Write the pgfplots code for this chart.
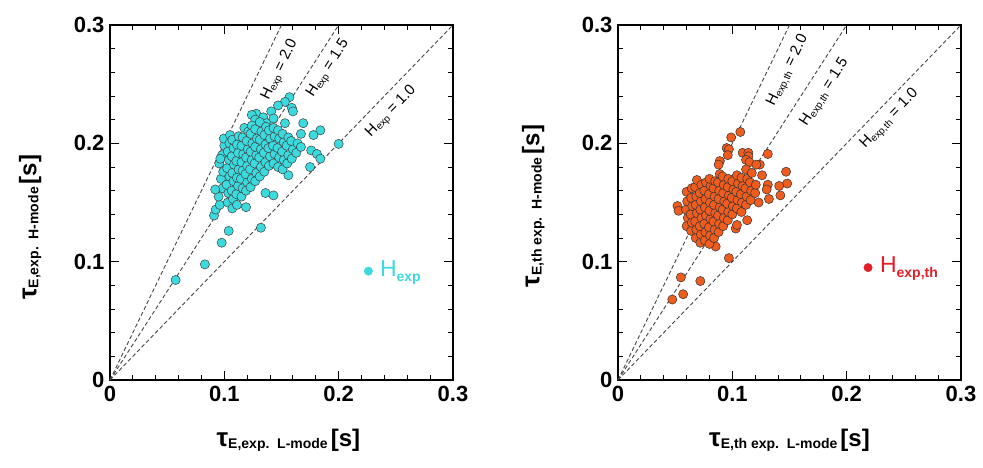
\documentclass[border=0pt]{standalone}
\usepackage{fontspec}
\setmainfont{Liberation Sans}
\usepackage{pgfplots}
\pgfplotsset{compat=1.18}
\definecolor{cyanc}{RGB}{58,218,222}
\definecolor{orangec}{RGB}{238,92,30}
\definecolor{redc}{RGB}{228,30,40}
\definecolor{linec}{RGB}{70,70,70}
\tikzset{
  hline/.style={linec, line width=0.9pt, dash pattern=on 4pt off 2.5pt},
  lbl/.style={font=\fontsize{15}{17}\selectfont, inner sep=0pt},
}
\pgfplotsset{
  myax/.style={
    scale only axis, width=343pt, height=355pt,
    xmin=0, xmax=0.3, ymin=0, ymax=0.3,
    xtick={0,0.1,0.2,0.3}, xticklabels={0,0.1,0.2,0.3},
    ytick={0,0.1,0.2,0.3}, yticklabels={0,0.1,0.2,0.3},
    minor x tick num=4, minor y tick num=4,
    tick align=inside,
    major tick length=9pt, minor tick length=5pt,
    every major tick/.style={line width=1.6pt, black},
    every minor tick/.style={line width=0.9pt, black},
    axis line style={line width=2.6pt},
    /pgf/number format/assume math mode=true,
    tick label style={font=\fontsize{22}{25}\selectfont\bfseries},
    xticklabel style={yshift=-3pt},
    yticklabel style={xshift=-2pt},
    clip=false,
  },
}
\newcommand{\axlab}[1]{{\fontsize{26}{29}\selectfont\bfseries τ}\raisebox{-0.4ex}{\fontsize{14}{16}\selectfont\bfseries #1}\kern3pt{\fontsize{24}{27}\selectfont\bfseries [s]}}
\newcommand{\hs}[1]{H\textsubscript{\fontsize{10}{11}\selectfont #1}}
\begin{document}
\begin{tikzpicture}
\path[use as bounding box] (0pt,0pt) rectangle (983pt,468pt);
% ---------------- left panel
\begin{axis}[myax, at={(110pt,88pt)}, anchor=south west,
  xlabel={\axlab{E,exp.\ \ L-mode}},
  ylabel={\axlab{E,exp.\ \ H-mode}},
  xlabel style={at={(axis description cs:0.52,-0.17)}, anchor=center},
  ylabel style={at={(axis description cs:-0.233,0.43)}, anchor=center},
]
\addplot[hline] coordinates {(0,0) (0.15,0.3)};
\addplot[hline] coordinates {(0,0) (0.2,0.3)};
\addplot[hline] coordinates {(0,0) (0.3,0.3)};
\addplot[only marks, mark=*, mark size=4.6pt, mark options={fill=cyanc, draw=black!75, line width=0.5pt}] table {
x y
0.0574 0.0845
0.0830 0.0977
0.0977 0.1160
0.1038 0.1260
0.1320 0.1287
0.0910 0.1390
0.0925 0.1440
0.1190 0.1460
0.1360 0.1580
0.1430 0.1560
0.2000 0.1995
0.1840 0.2110
0.1780 0.2070
0.1750 0.1800
0.1760 0.1940
0.1810 0.1910
0.1840 0.1870
0.1690 0.2170
0.1670 0.2080
0.1560 0.1730
0.1570 0.2390
0.1530 0.2350
0.1590 0.2300
0.1600 0.2270
0.1470 0.2320
0.1410 0.2270
0.1530 0.2170
0.1280 0.2250
0.1240 0.2240
0.1340 0.2220
0.1270 0.2200
0.1370 0.2170
0.1430 0.2210
0.0960 0.1480
0.0950 0.1550
0.0985 0.1620
0.0970 0.1700
0.0990 0.1760
0.0955 0.1830
0.0980 0.1900
0.1000 0.1980
0.0995 0.2040
0.0920 0.1610
0.0965 0.1870
0.1030 0.1500
0.1035 0.1580
0.1020 0.1650
0.1045 0.1720
0.1025 0.1790
0.1040 0.1860
0.1030 0.1930
0.1045 0.2000
0.1050 0.2070
0.1070 0.1450
0.1075 0.1530
0.1065 0.1600
0.1080 0.1680
0.1070 0.1750
0.1085 0.1820
0.1065 0.1890
0.1080 0.1960
0.1070 0.2030
0.1110 0.1480
0.1105 0.1570
0.1120 0.1640
0.1110 0.1710
0.1125 0.1780
0.1105 0.1850
0.1120 0.1920
0.1110 0.1990
0.1125 0.2060
0.1150 0.1550
0.1160 0.1620
0.1145 0.1700
0.1160 0.1770
0.1150 0.1840
0.1165 0.1910
0.1150 0.1980
0.1160 0.2050
0.1175 0.2130
0.1190 0.1600
0.1200 0.1670
0.1185 0.1740
0.1200 0.1810
0.1190 0.1880
0.1205 0.1950
0.1195 0.2020
0.1210 0.2100
0.1230 0.1630
0.1240 0.1700
0.1225 0.1780
0.1240 0.1860
0.1230 0.1930
0.1245 0.2000
0.1230 0.2080
0.1240 0.2150
0.1270 0.1680
0.1280 0.1750
0.1265 0.1830
0.1280 0.1900
0.1270 0.1970
0.1285 0.2040
0.1270 0.2120
0.1310 0.1720
0.1320 0.1800
0.1305 0.1880
0.1320 0.1950
0.1310 0.2030
0.1325 0.2100
0.1310 0.2180
0.1350 0.1760
0.1360 0.1840
0.1345 0.1920
0.1360 0.1990
0.1350 0.2070
0.1365 0.2140
0.1390 0.1810
0.1400 0.1890
0.1385 0.1960
0.1400 0.2040
0.1390 0.2110
0.1430 0.1830
0.1440 0.1910
0.1425 0.1980
0.1440 0.2060
0.1430 0.2130
0.1470 0.1800
0.1480 0.1880
0.1465 0.1960
0.1480 0.2040
0.1470 0.2110
0.1510 0.1780
0.1520 0.1860
0.1505 0.1930
0.1520 0.2010
0.1510 0.2080
0.1550 0.1830
0.1560 0.1900
0.1545 0.1980
0.1560 0.2050
0.1590 0.1870
0.1600 0.1950
0.1585 0.2020
0.1630 0.1920
0.1640 0.2000
0.1670 0.1970
};
\addplot[only marks, mark=*, mark size=4.2pt, mark options={fill=cyanc, draw=cyanc}] coordinates {(0.226,0.092)};
\node[anchor=west, text=cyanc, font=\fontsize{23}{26}\selectfont, inner sep=0pt] at (axis cs:0.236,0.091) {H\raisebox{-0.45ex}{\fontsize{14}{16}\selectfont\bfseries exp}};
\node[lbl, rotate=64.2] at (axis cs:0.1487,0.262) {\hs{exp} = 2.0};
\node[lbl, rotate=57.2] at (axis cs:0.191,0.263) {\hs{exp} = 1.5};
\node[lbl, rotate=46.0] at (axis cs:0.246,0.227) {\hs{exp} = 1.0};
\end{axis}
% ---------------- right panel
\begin{axis}[myax, at={(618pt,88pt)}, anchor=south west,
  xlabel={\axlab{E,th exp.\ \ L-mode}},
  ylabel={\axlab{E,th exp.\ \ H-mode}},
  xlabel style={at={(axis description cs:0.5,-0.17)}, anchor=center},
  ylabel style={at={(axis description cs:-0.247,0.49)}, anchor=center},
]
\addplot[hline] coordinates {(0,0) (0.15,0.3)};
\addplot[hline] coordinates {(0,0) (0.2,0.3)};
\addplot[hline] coordinates {(0,0) (0.3,0.3)};
\addplot[only marks, mark=*, mark size=4.6pt, mark options={fill=orangec, draw=black!80, line width=0.5pt}] table {
x y
0.0475 0.0680
0.0570 0.0725
0.0550 0.0867
0.0720 0.0836
0.0970 0.1030
0.0854 0.1128
0.1070 0.2096
0.0990 0.2050
0.0950 0.1960
0.0970 0.1950
0.0960 0.1900
0.0890 0.1850
0.0880 0.1820
0.1090 0.1920
0.1140 0.1920
0.1140 0.1890
0.1120 0.1860
0.1150 0.1840
0.1240 0.1820
0.1210 0.1820
0.1310 0.1910
0.1260 0.1730
0.1470 0.1760
0.1480 0.1660
0.1410 0.1640
0.1420 0.1560
0.1310 0.1650
0.1300 0.1610
0.1320 0.1530
0.1230 0.1500
0.0600 0.1590
0.0520 0.1470
0.0530 0.1430
0.1130 0.1350
0.1030 0.1280
0.0600 0.1300
0.0610 0.1370
0.0595 0.1440
0.0605 0.1510
0.0640 0.1260
0.0645 0.1330
0.0635 0.1400
0.0650 0.1470
0.0640 0.1540
0.0645 0.1620
0.0680 0.1200
0.0685 0.1270
0.0675 0.1340
0.0690 0.1410
0.0680 0.1480
0.0685 0.1550
0.0675 0.1630
0.0690 0.1690
0.0720 0.1160
0.0725 0.1230
0.0715 0.1300
0.0730 0.1370
0.0720 0.1440
0.0725 0.1510
0.0715 0.1580
0.0730 0.1650
0.0760 0.1180
0.0765 0.1250
0.0755 0.1320
0.0770 0.1390
0.0760 0.1460
0.0765 0.1530
0.0755 0.1600
0.0770 0.1670
0.0800 0.1150
0.0805 0.1220
0.0795 0.1290
0.0810 0.1360
0.0800 0.1430
0.0805 0.1500
0.0795 0.1570
0.0810 0.1640
0.0800 0.1700
0.0840 0.1200
0.0845 0.1270
0.0835 0.1340
0.0850 0.1410
0.0840 0.1480
0.0845 0.1550
0.0835 0.1620
0.0850 0.1680
0.0880 0.1250
0.0885 0.1320
0.0875 0.1390
0.0890 0.1460
0.0880 0.1530
0.0885 0.1600
0.0875 0.1670
0.0890 0.1740
0.0920 0.1300
0.0925 0.1370
0.0915 0.1440
0.0930 0.1510
0.0920 0.1580
0.0925 0.1650
0.0915 0.1720
0.0960 0.1350
0.0965 0.1420
0.0955 0.1490
0.0970 0.1560
0.0960 0.1630
0.0965 0.1700
0.1000 0.1400
0.1005 0.1470
0.0995 0.1540
0.1010 0.1610
0.1000 0.1680
0.1040 0.1310
0.1040 0.1450
0.1045 0.1520
0.1035 0.1590
0.1050 0.1660
0.1040 0.1730
0.1080 0.1420
0.1085 0.1500
0.1075 0.1570
0.1090 0.1640
0.1080 0.1710
0.1120 0.1480
0.1125 0.1550
0.1115 0.1620
0.1130 0.1700
0.1120 0.1780
0.1160 0.1520
0.1165 0.1600
0.1155 0.1670
0.1170 0.1750
0.1200 0.1580
0.1205 0.1650
};
\addplot[only marks, mark=*, mark size=4.2pt, mark options={fill=redc, draw=redc}] coordinates {(0.2187,0.095)};
\node[anchor=west, text=redc, font=\fontsize{23}{26}\selectfont, inner sep=0pt] at (axis cs:0.229,0.094) {H\raisebox{-0.45ex}{\fontsize{14}{16}\selectfont\bfseries exp,th}};
\node[lbl, rotate=64.2] at (axis cs:0.1487,0.2615) {\hs{exp,th} = 2.0};
\node[lbl, rotate=57.2] at (axis cs:0.181,0.243) {\hs{exp,th} = 1.5};
\node[lbl, rotate=46.0] at (axis cs:0.2376,0.2204) {\hs{exp,th} = 1.0};
\end{axis}
\end{tikzpicture}
\end{document}
